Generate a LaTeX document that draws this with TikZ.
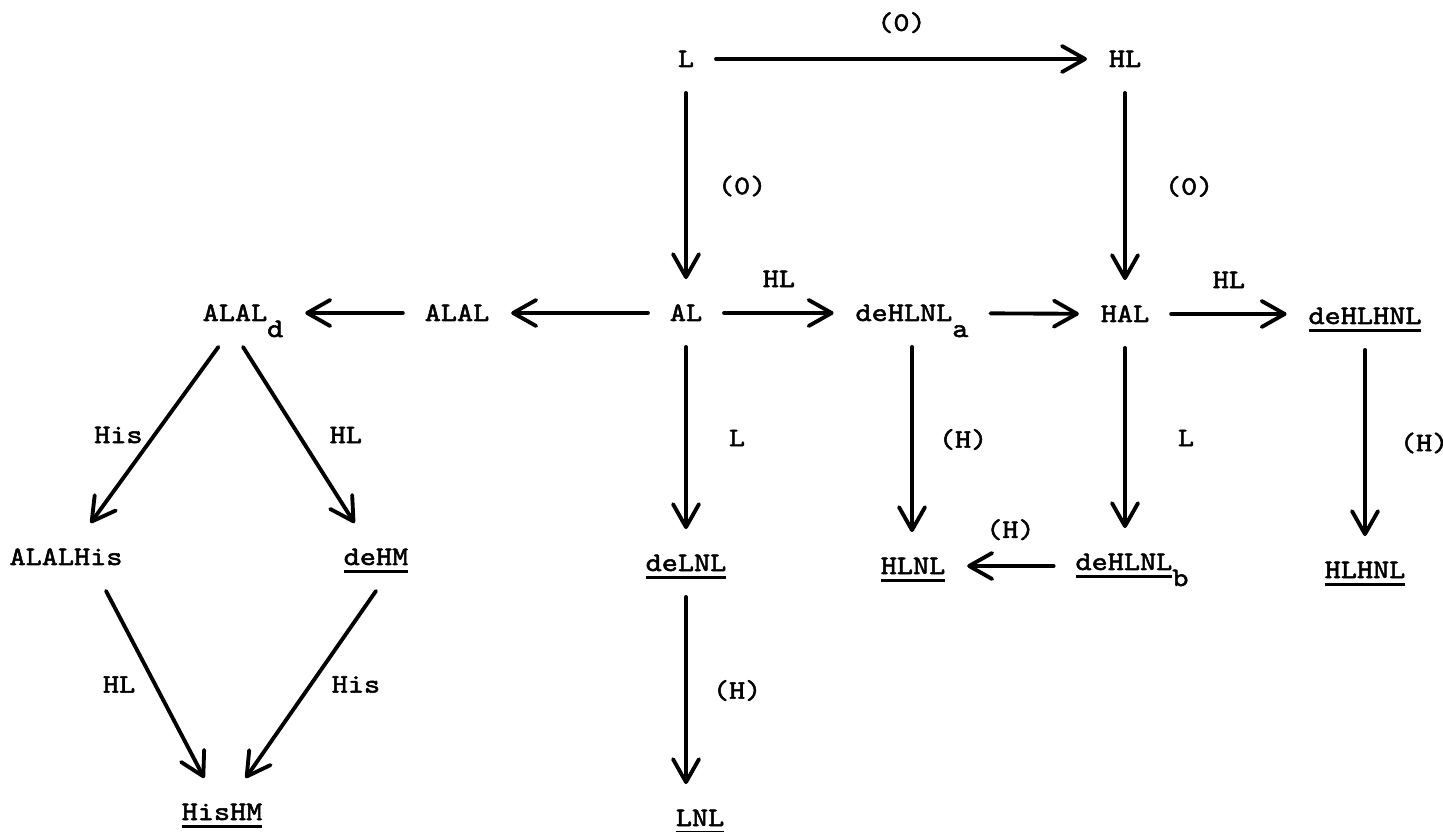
\documentclass[tikz,border=0pt]{standalone}
\usepackage{fontspec}
\usetikzlibrary{arrows.meta,positioning}
\newfontfamily\tw{lmmono10-regular.otf}[FakeStretch=1.15,FakeBold=2]
% underlined word, lowered index
\newcommand{\ulw}[1]{\setbox0\hbox{#1}\rlap{\rule[-0.08cm]{\wd0}{0.8pt}}\box0}
\newcommand{\dn}[1]{\raisebox{-0.16cm}{#1}}
\begin{document}
\begin{tikzpicture}[>={Straight Barb[length=2.3mm,width=2.6mm,round]}, line width=1.1pt, line join=round, line cap=round,
	obj/.style={inner xsep=0.2cm, inner ysep=0.24cm, text height=0.16cm, text depth=0pt},
	lab/.style={inner sep=0pt},
	font=\tw\fontsize{7.6}{9}\selectfont]
	\useasboundingbox (0,0) rectangle (14.43,8.31);
	% objects
	\node[obj] (L) at (6.86,7.72) {L};
	\node[obj] (HL) at (11.25,7.72) {HL};
	\node[obj] (ALALd) at (2.43,5.18) {ALAL\dn{d}};
	\node[obj] (ALAL) at (4.57,5.18) {ALAL};
	\node[obj] (AL) at (6.86,5.18) {AL};
	\node[obj] (deHLNLa) at (9.12,5.18) {deHLNL\dn{a}};
	\node[obj] (HAL) at (11.25,5.17) {HAL};
	\node[obj] (deHLHNL) at (13.65,5.15) {\ulw{deHLHNL}};
	\node[obj] (ALALHis) at (0.66,2.74) {ALALHis};
	\node[obj] (deHM) at (3.76,2.74) {\ulw{deHM}};
	\node[obj] (deLNL) at (6.86,2.68) {\ulw{deLNL}};
	\node[obj] (HLNL) at (9.13,2.65) {\ulw{HLNL}};
	\node[obj] (deHLNLb) at (11.32,2.69) {\ulw{deHLNL}\dn{b}};
	\node[obj] (HLHNL) at (13.65,2.61) {\ulw{HLHNL}};
	\node[obj] (HisHM) at (2.22,0.19) {\ulw{HisHM}};
	\node[obj] (LNL) at (7.00,0.13) {\ulw{LNL}};
	% top square
	\draw[->] (L) -- (HL) node[lab,midway,above=0.24cm]{(0)};
	\draw[->] (L) -- (L |- AL.north) node[lab,midway,right=0.3cm]{(0)};
	\draw[->] (HL) -- (HL |- HAL.north) node[lab,midway,right=0.38cm]{(0)};
	% middle row
	\draw[->] (AL) -- (ALAL);
	\draw[->] (ALAL) -- (ALALd);
	\draw[->] (AL) -- (deHLNLa) node[lab,midway,above=0.24cm]{HL};
	\draw[->] (deHLNLa) -- (HAL);
	\draw[->] (HAL) -- (HAL -| deHLHNL.west) node[lab,midway,above=0.24cm]{HL};
	% down arrows
	\draw[->] (AL) -- (AL |- deLNL.north) node[lab,midway,right=0.41cm]{L};
	\draw[->] (deLNL) -- (deLNL |- LNL.north) node[lab,midway,right=0.25cm]{(H)};
	\draw[->] (deHLNLa) -- (deHLNLa |- HLNL.north) node[lab,midway,right=0.25cm]{(H)};
	\draw[->] (HAL) -- (HAL |- deHLNLb.north) node[lab,midway,right=0.51cm]{L};
	\draw[->] (deHLNLb.west |- HLNL) -- (HLNL) node[lab,midway,above=0.24cm]{(H)};
	\draw[->] (deHLHNL) -- (deHLHNL |- HLHNL.north) node[lab,midway,right=0.33cm]{(H)};
	% left diamond
	\draw[->] (ALALd) -- (ALALHis) node[lab,midway,left=0.1cm]{His};
	\draw[->] (ALALd.south) -- (deHM) node[lab,midway,right=0.29cm]{HL};
	\draw[->] ([xshift=4mm]ALALHis.south) -- (HisHM) node[lab,midway,left=0.18cm]{HL};
	\draw[->] (deHM.south) -- (HisHM) node[lab,midway,right=0.19cm]{His};
\end{tikzpicture}
\end{document}
